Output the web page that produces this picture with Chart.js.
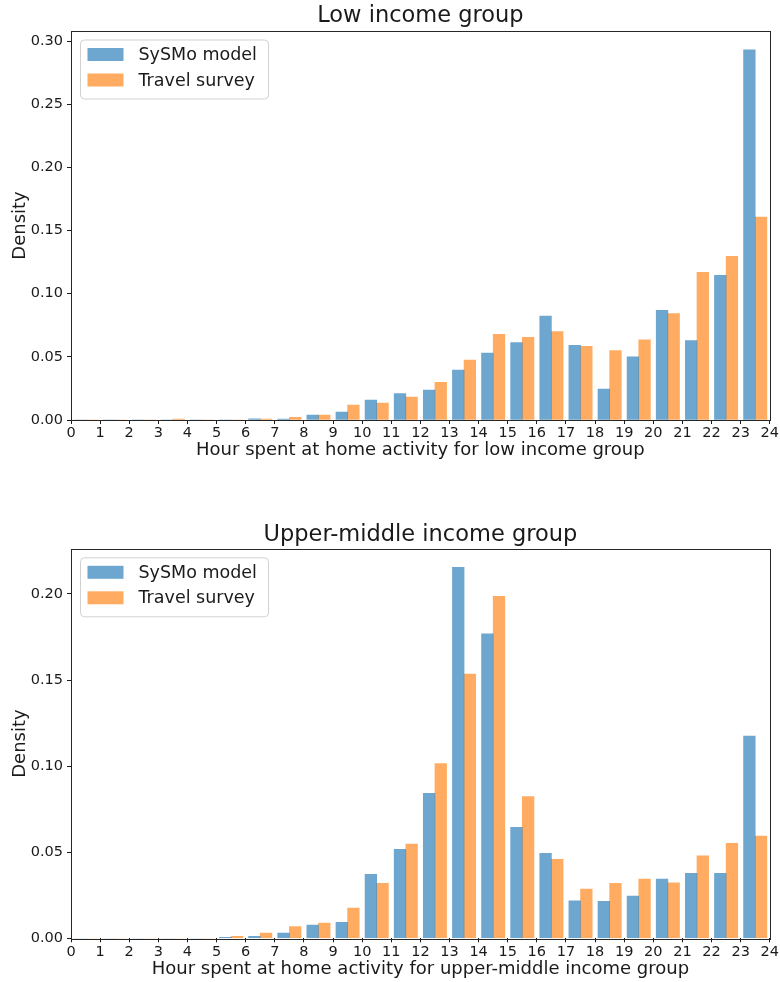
<!DOCTYPE html>
<html>
<head>
<meta charset="utf-8">
<script src="https://cdn.jsdelivr.net/npm/chart.js@4.4.1/dist/chart.umd.min.js"></script>
<style>
  html, body { margin: 0; padding: 0; background: #fff; }
  canvas { display: block; }
</style>
</head>
<body>
<canvas id="lowChart" width="780" height="490"></canvas>
<canvas id="upperChart" width="780" height="492"></canvas>
<script>
// Hourly bins (start of each one-hour bin)
const hourBins = [0, 1, 2, 3, 4, 5, 6, 7, 8, 9, 10, 11, 12, 13, 14, 15, 16, 17, 18, 19, 20, 21, 22, 23];
const seriesNames = ['SySMo model', 'Travel survey'];

// Low income group: density of hours spent at home
const lowSysmo = [0, 0, 0, 0, 0, 0, 0.001, 0.0008, 0.0039, 0.0063, 0.0158, 0.021,
  0.0237, 0.0395, 0.0529, 0.0613, 0.0822, 0.0592, 0.0245, 0.050, 0.0869, 0.0629, 0.1145, 0.293];
const lowSurvey = [0, 0, 0, 0.0008, 0, 0, 0.0008, 0.0021, 0.0039, 0.0118, 0.0134, 0.0182,
  0.0298, 0.0474, 0.0679, 0.0655, 0.070, 0.0584, 0.055, 0.0634, 0.0842, 0.1169, 0.1295, 0.1606];

// Upper-middle income group
const upperSysmo = [0, 0, 0, 0, 0, 0.0006, 0.0012, 0.0031, 0.0077, 0.0093, 0.0371, 0.0516,
  0.0842, 0.2154, 0.1768, 0.0645, 0.0493, 0.0218, 0.0214, 0.0245, 0.0344, 0.0377, 0.0377, 0.1175];
const upperSurvey = [0, 0, 0, 0, 0, 0.0012, 0.0031, 0.0068, 0.0089, 0.0176, 0.0319, 0.0547,
  0.1014, 0.1534, 0.1986, 0.0823, 0.0458, 0.0286, 0.0319, 0.0344, 0.0322, 0.0479, 0.0551, 0.0593];

// Density tick labels for each panel
const lowDensityTicks = [0, 0.05, 0.10, 0.15, 0.20, 0.25, 0.30];
const upperDensityTicks = [0, 0.05, 0.10, 0.15, 0.20];

const FONT = 'DejaVu Sans';
const INK = '#1a1a1a';
const BLUE = 'rgba(31,119,180,0.65)';
const ORANGE = 'rgba(255,127,14,0.65)';

// Each bin holds two side-by-side bars, each 0.4 h wide, leaving 0.1 h at both edges
function binBars(values, centerOffset) {
  return hourBins.map((h, i) => ({ x: h + centerOffset, y: values[i] }));
}

// Frame around the plotting area (all four spines)
const framePlugin = {
  id: 'frame',
  afterDatasetsDraw(chart) {
    const { ctx, chartArea: a } = chart;
    ctx.save();
    ctx.strokeStyle = '#262626';
    ctx.lineWidth = 1;
    ctx.strokeRect(Math.round(a.left) + 0.5, Math.round(a.top) + 0.5,
      Math.round(a.right - a.left), Math.round(a.bottom - a.top));
    ctx.restore();
  }
};

// Legend box in the upper-left corner of the plotting area
const insetLegendPlugin = {
  id: 'insetLegend',
  afterDraw(chart) {
    const { ctx, chartArea: a } = chart;
    const x = a.left + 9.5, y = a.top + 9, w = 188, h = 59;
    ctx.save();
    ctx.beginPath();
    ctx.roundRect(x, y, w, h, 4);
    ctx.fillStyle = 'rgba(255,255,255,0.8)';
    ctx.fill();
    ctx.strokeStyle = 'rgba(204,204,204,0.9)';
    ctx.lineWidth = 1;
    ctx.stroke();
    ctx.font = '17.5px "' + FONT + '"';
    ctx.textBaseline = 'middle';
    ctx.textAlign = 'left';
    chart.data.datasets.forEach((ds, i) => {
      const cy = y + 14.5 + i * 25.5;
      ctx.fillStyle = ds.backgroundColor;
      ctx.fillRect(x + 7, cy - 6.5, 36, 13);
      ctx.fillStyle = INK;
      ctx.fillText(ds.label, x + 58, cy + 1);
    });
    ctx.restore();
  }
};

function makeChart(canvasId, cfg) {
  return new Chart(document.getElementById(canvasId), {
    type: 'bar',
    data: {
      datasets: [
        { label: seriesNames[0], data: binBars(cfg.sysmo, 0.3), backgroundColor: BLUE },
        { label: seriesNames[1], data: binBars(cfg.survey, 0.7), backgroundColor: ORANGE }
      ]
    },
    options: {
      responsive: false,
      animation: false,
      devicePixelRatio: 1,
      datasets: { bar: { grouped: false, barPercentage: 1, categoryPercentage: 1 } },
      layout: { padding: { top: cfg.padTop, right: 9, bottom: 0, left: 0 } },
      plugins: {
        legend: { display: false },
        tooltip: { enabled: false },
        title: {
          display: true,
          fullSize: false,
          text: cfg.title,
          color: INK,
          font: { family: FONT, size: 22.5, weight: 'normal' },
          padding: { top: 3, bottom: cfg.titleGap }
        }
      },
      scales: {
        x: {
          type: 'linear',
          min: 0,
          max: 24,
          offset: false,
          afterFit(axis) { axis.height = cfg.xAxisHeight; },
          grid: { display: true, offset: false, drawOnChartArea: false, drawTicks: true, tickLength: 4, tickColor: INK },
          border: { display: false },
          ticks: { stepSize: 1, autoSkip: false, maxRotation: 0, padding: 1, color: INK, font: { family: FONT, size: 14.5 } },
          title: {
            display: true,
            text: cfg.xTitle,
            color: INK,
            font: { family: FONT, size: 18 },
            padding: { top: 0, bottom: cfg.xTitlePad }
          }
        },
        y: {
          min: 0,
          max: cfg.yMax,
          afterFit(axis) { axis.width = 71; },
          afterBuildTicks(axis) {
            axis.ticks = cfg.yTicks.map(v => ({ value: v }));
          },
          grid: { display: true, drawOnChartArea: false, drawTicks: true, tickLength: 4, tickColor: INK },
          border: { display: false },
          ticks: {
            includeBounds: false,
            padding: 4,
            color: INK,
            font: { family: FONT, size: 14.5 },
            callback: v => v.toFixed(2)
          },
          title: {
            display: true,
            text: 'Density',
            color: INK,
            font: { family: FONT, size: 18 },
            padding: { top: 10, bottom: 0 }
          }
        }
      }
    },
    plugins: [framePlugin, insetLegendPlugin]
  });
}

makeChart('lowChart', {
  title: 'Low income group',
  xTitle: 'Hour spent at home activity for low income group',
  sysmo: lowSysmo,
  survey: lowSurvey,
  yMax: 0.308,
  yTicks: lowDensityTicks,
  padTop: 0,
  titleGap: 1,
  xAxisHeight: 70,
  xTitlePad: 28.8
});

makeChart('upperChart', {
  title: 'Upper-middle income group',
  xTitle: 'Hour spent at home activity for upper-middle income group',
  sysmo: upperSysmo,
  survey: upperSurvey,
  yMax: 0.2262,
  yTicks: upperDensityTicks,
  padTop: 28.8,
  titleGap: 0,
  xAxisHeight: 43.7,
  xTitlePad: 1.8
});
</script>
</body>
</html>
